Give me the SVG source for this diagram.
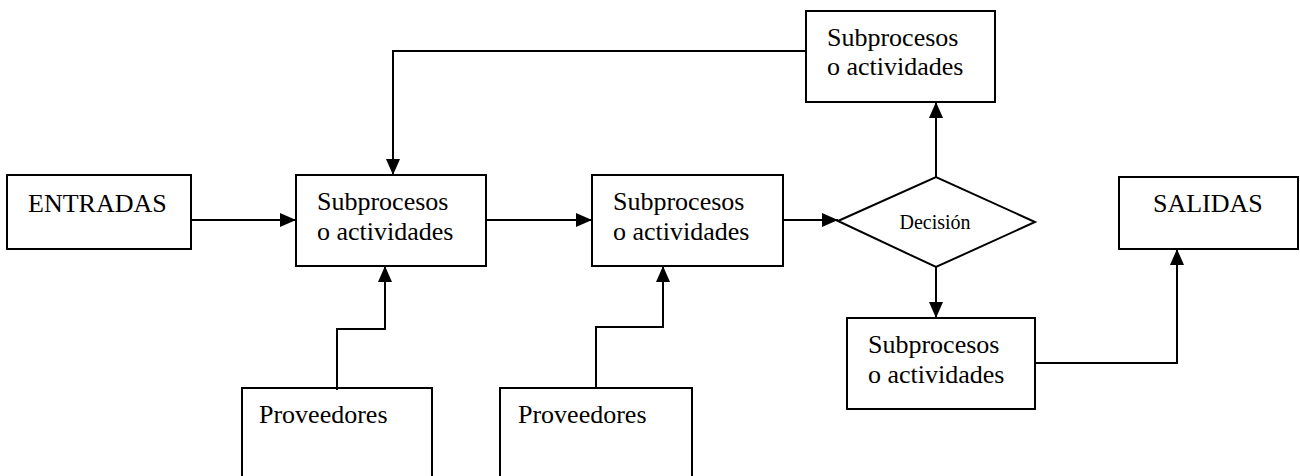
<svg xmlns="http://www.w3.org/2000/svg" width="1300" height="476" viewBox="0 0 1300 476">
  <style>
    .box { fill: #fff; stroke: #000; stroke-width: 2; }
    .t { font-family: "Liberation Serif", "Times New Roman", serif; font-size: 26px; fill: #000; }
    .ts { font-family: "Liberation Serif", "Times New Roman", serif; font-size: 20px; fill: #000; }
    .c { fill: none; stroke: #000; stroke-width: 2; }
  </style>
  <defs>
    <marker id="arr" markerUnits="userSpaceOnUse" markerWidth="16" markerHeight="14" refX="16" refY="7" orient="auto">
      <path d="M0,0 L16,7 L0,14 z" fill="#000"/>
    </marker>
  </defs>
  <rect width="1300" height="476" fill="#fff"/>

  <g id="entradas">
    <rect class="box" x="7" y="175" width="184" height="74"/>
    <text class="t" x="28" y="212">ENTRADAS</text>
  </g>
  <g id="sub1">
    <rect class="box" x="296" y="175" width="190" height="91"/>
    <text class="t" x="317" y="210">Subprocesos</text>
    <text class="t" x="317" y="240">o actividades</text>
  </g>
  <g id="sub2">
    <rect class="box" x="592" y="175" width="191" height="91"/>
    <text class="t" x="613" y="210">Subprocesos</text>
    <text class="t" x="613" y="240">o actividades</text>
  </g>
  <g id="decision">
    <polygon class="box" points="838,221 936,177 1035,222 936,267"/>
    <text class="ts" x="935" y="229" text-anchor="middle">Decisión</text>
  </g>
  <g id="subTop">
    <rect class="box" x="806" y="11" width="189" height="91"/>
    <text class="t" x="827" y="46">Subprocesos</text>
    <text class="t" x="827" y="75">o actividades</text>
  </g>
  <g id="subBottom">
    <rect class="box" x="847" y="318" width="188" height="91"/>
    <text class="t" x="868" y="353">Subprocesos</text>
    <text class="t" x="868" y="383">o actividades</text>
  </g>
  <g id="salidas">
    <rect class="box" x="1119" y="177" width="179" height="72"/>
    <text class="t" x="1153" y="212">SALIDAS</text>
  </g>
  <g id="prov1">
    <rect class="box" x="242" y="388" width="190" height="92"/>
    <text class="t" x="259" y="423">Proveedores</text>
  </g>
  <g id="prov2">
    <rect class="box" x="500" y="388" width="192" height="92"/>
    <text class="t" x="518" y="423">Proveedores</text>
  </g>

  <g id="connectors">
    <line class="c" x1="191" y1="220" x2="296" y2="220" marker-end="url(#arr)"/>
    <line class="c" x1="486" y1="220" x2="592" y2="220" marker-end="url(#arr)"/>
    <line class="c" x1="783" y1="220" x2="838" y2="220" marker-end="url(#arr)"/>
    <line class="c" x1="936" y1="177" x2="936" y2="102" marker-end="url(#arr)"/>
    <polyline class="c" points="806,51 393,51 393,175" marker-end="url(#arr)"/>
    <line class="c" x1="936" y1="267" x2="936" y2="318" marker-end="url(#arr)"/>
    <polyline class="c" points="1035,363 1177,363 1177,249" marker-end="url(#arr)"/>
    <polyline class="c" points="337,390 337,329 385,329 385,266" marker-end="url(#arr)"/>
    <polyline class="c" points="596,388 596,327 663,327 663,266" marker-end="url(#arr)"/>
  </g>
</svg>
